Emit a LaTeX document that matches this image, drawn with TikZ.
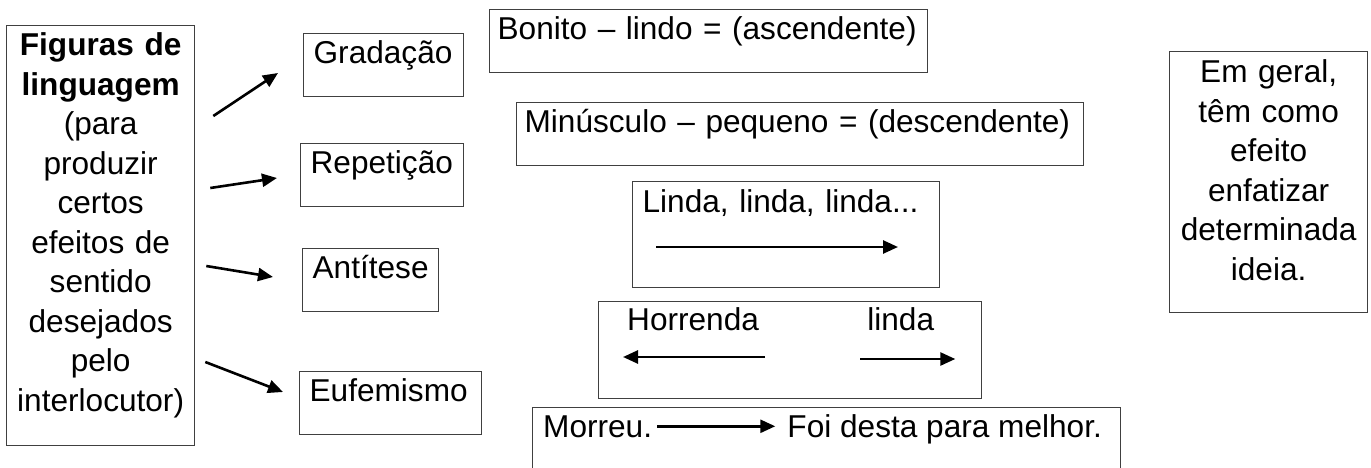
\documentclass[tikz,border=0pt]{standalone}
\usepackage{fontspec}
\setmainfont{Liberation Sans}
\usepackage{tikz}
\usetikzlibrary{arrows.meta}
\usetikzlibrary{positioning}
\hyphenpenalty=10000

\begin{document}
\begin{tikzpicture}[x=1pt,y=-1pt,
    every node/.style={font=\fontsize{31.6}{39.5}\selectfont},
    box/.style={draw=black!75,line width=1.3pt,anchor=north west,
                inner xsep=10pt,inner ysep=0pt,align=left},
    one line/.style={box,text height=30pt,text depth=33pt},
    word/.style={inner sep=0pt},
    arr/.style={-{Triangle[length=15pt,width=13pt]},line width=2.6pt}]

  \useasboundingbox (0,0) rectangle (1371,468);
  \clip (0,0) rectangle (1371,468);

  % left column
  \node[box,align=center,inner xsep=4pt,text width=180pt,
        text height=30pt,text depth=390pt] (fig) at (6,25)
    {\textbf{Figuras de}\\\textbf{linguagem}\\(para\\produzir\\certos\\efeitos de\\sentido\\desejados\\pelo\\interlocutor)};

  \node[one line,text width=140pt] (grad) at (303,33) {Gradação};
  \node[one line,text width=143pt] (rep) at (300,143) {Repetição};
  \node[one line,text width=116pt] (ant) at (302,248) {Antítese};
  \node[one line,text width=162pt] (euf) at (299,371) {Eufemismo};

  \draw[arr] ([shift={(18pt,-91pt)}]fig.north east) -- ([shift={(-25pt,-40pt)}]grad.north west);
  \draw[arr] ([shift={(15pt,-163pt)}]fig.north east) -- ([shift={(-23pt,-35pt)}]rep.north west);
  \draw[arr] ([shift={(11pt,-241pt)}]fig.north east) -- ([shift={(-29pt,-29pt)}]ant.north west);
  \draw[arr] ([shift={(10pt,-337pt)}]fig.north east) -- ([shift={(-16pt,-21pt)}]euf.north west);

  % examples
  \node[one line,inner xsep=8pt,text width=422pt] (bon) at (489,9) {Bonito – lindo = (ascendente)};
  \node[one line,inner xsep=8pt,text width=551pt] (minu) at (516,102) {Minúsculo – pequeno = (descendente)};

  \node[box,text width=287pt,text height=31pt,text depth=75pt] (linds) at (632,181) {Linda, linda, linda...};
  \draw[arr] ([shift={(24pt,-66pt)}]linds.north west) -- ([shift={(266pt,-66pt)}]linds.north west);

  \node[box,minimum width=383pt,minimum height=97pt] (opp) at (598,301) {};
  \node[word,anchor=base west] (horr) at ([shift={(29pt,-29pt)}]opp.north west) {Horrenda};
  \node[word] (linda) [base right=108pt of horr] {linda};
  \draw[arr] ([shift={(6pt,-27pt)}]horr.base east) -- ([shift={(-4pt,-27pt)}]horr.base west);
  \draw[arr] ([shift={(-7pt,-29pt)}]linda.base west) -- ([shift={(21pt,-29pt)}]linda.base east);

  \node[box,minimum width=588pt,minimum height=100pt] (soft) at (532,407) {};
  \node[word,anchor=base west] (morreu) at ([shift={(11pt,-30pt)}]soft.north west) {Morreu.};
  \node[word] (foi) [base right=135pt of morreu] {Foi desta para melhor.};
  \draw[arr,shorten <=5pt,shorten >=12pt] (morreu.east) -- (morreu.east -| foi.west);

  % right column
  \node[box,align=center,inner xsep=4pt,text width=190pt,
        text height=31pt,text depth=230pt] (eff) at (1169,51)
    {Em geral,\\têm como\\efeito\\enfatizar\\determinada\\ideia.};

\end{tikzpicture}
\end{document}
